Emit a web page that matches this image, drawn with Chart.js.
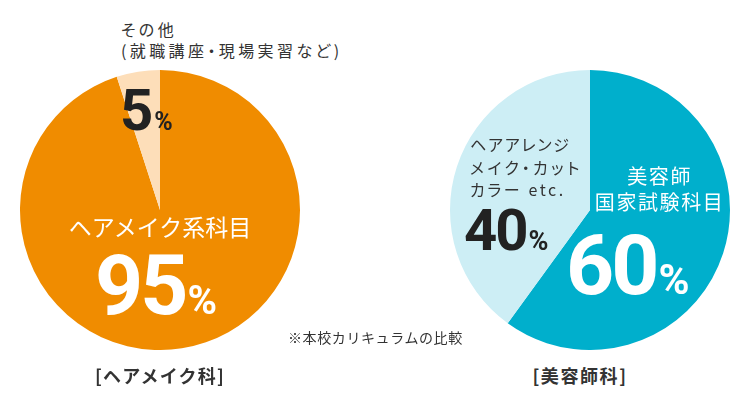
<!DOCTYPE html>
<html lang="ja">
<head>
<meta charset="utf-8">
<title>カリキュラムの比較</title>
<script src="https://cdn.jsdelivr.net/npm/chart.js@4.4.1/dist/chart.umd.min.js"></script>
<style>
    html, body {
        margin: 0;
        padding: 0;
        background: #fff;
    }
    #stage {
        position: relative;
        width: 750px;
        height: 400px;
        overflow: hidden;
        font-family: "Noto Sans CJK JP", "Noto Sans", sans-serif;
        color: #333;
    }
    .pie-box {
        position: absolute;
        top: 70px;
        width: 280px;
        height: 280px;
    }
    .lbl {
        position: absolute;
        white-space: nowrap;
    }
    .num {
        position: absolute;
        white-space: nowrap;
        font-family: Roboto, "DejaVu Sans", sans-serif;
        font-weight: 700;
        line-height: 1;
    }
    .num .pct {
        margin-left: 2px;
    }
</style>
</head>
<body>
<div id="stage">
    <div class="pie-box" style="left:20px;"><canvas id="hairMakeChart"></canvas></div>
    <div class="pie-box" style="left:450px;"><canvas id="biyoushiChart"></canvas></div>

    <!-- ヘアメイク科 -->
    <div class="lbl" style="left:121px;top:19px;font-size:16px;line-height:21px;letter-spacing:3.4px;font-feature-settings:'palt';">その他<br>(就職講座・現場実習など)</div>
    <div class="num" style="left:120px;top:81px;font-size:58px;color:#222;letter-spacing:-1px;">5<span class="pct" style="font-size:25px;">%</span></div>
    <div class="lbl" style="left:60px;width:200px;top:215px;font-size:23px;line-height:23px;color:#fff;text-align:center;">ヘアメイク系科目</div>
    <div class="num" style="left:95px;top:244px;font-size:84px;color:#fff;letter-spacing:-3px;">95<span class="pct" style="font-size:40px;letter-spacing:0;">%</span></div>

    <!-- 美容師科 -->
    <div class="lbl" style="left:470px;top:133px;font-size:16px;line-height:22.5px;letter-spacing:2.6px;font-feature-settings:'palt';"><span style="letter-spacing:1.8px;">ヘアアレンジ</span><br><span style="letter-spacing:3.3px;">メイク・カット</span><br>カラー etc.</div>
    <div class="num" style="left:464px;top:201px;font-size:58px;color:#222;letter-spacing:-2px;">40<span class="pct" style="font-size:27px;letter-spacing:0;">%</span></div>
    <div class="lbl" style="left:558px;width:200px;top:163px;font-size:20px;line-height:26px;letter-spacing:1.6px;padding-left:1.6px;color:#fff;text-align:center;">美容師<br>国家試験科目</div>
    <div class="num" style="left:566px;top:224px;font-size:84px;color:#fff;letter-spacing:-3px;">60<span class="pct" style="font-size:42px;letter-spacing:0;">%</span></div>

    <div class="lbl" style="left:288px;top:330px;font-size:14px;line-height:14px;letter-spacing:0.6px;">※本校カリキュラムの比較</div>

    <div class="lbl" style="left:60px;width:200px;top:366px;font-size:18px;line-height:18px;font-weight:700;letter-spacing:1.2px;text-align:center;">[ヘアメイク科]</div>
    <div class="lbl" style="left:480px;width:200px;top:366px;font-size:18px;line-height:18px;font-weight:700;letter-spacing:1.6px;text-align:center;">[美容師科]</div>
</div>

<script>
// ヘアメイク科
const hairMakeLabels = ['ヘアメイク系科目', 'その他(就職講座・現場実習など)'];
const hairMakeValues = [95, 5];
const hairMakeColors = ['#f08c00', '#fddeb9'];

// 美容師科
const biyoushiLabels = ['美容師国家試験科目', 'ヘアアレンジ・メイク・カット・カラー etc.'];
const biyoushiValues = [60, 40];
const biyoushiColors = ['#00afcc', '#cdeef5'];

document.addEventListener('DOMContentLoaded', function() {
    if (typeof Chart === 'undefined') {
        console.error('Chart.js not loaded');
        return;
    }
    initPie('hairMakeChart', hairMakeLabels, hairMakeValues, hairMakeColors);
    initPie('biyoushiChart', biyoushiLabels, biyoushiValues, biyoushiColors);
});

function initPie(id, labels, values, colors) {
    const ctx = document.getElementById(id);
    if (!ctx) return;

    new Chart(ctx, {
        type: 'pie',
        data: {
            labels: labels,
            datasets: [{
                data: values,
                backgroundColor: colors,
                borderWidth: 0
            }]
        },
        options: {
            responsive: true,
            maintainAspectRatio: false,
            animation: false,
            layout: { padding: 0 },
            plugins: {
                legend: { display: false },
                tooltip: { enabled: false }
            }
        }
    });
}
</script>
</body>
</html>
